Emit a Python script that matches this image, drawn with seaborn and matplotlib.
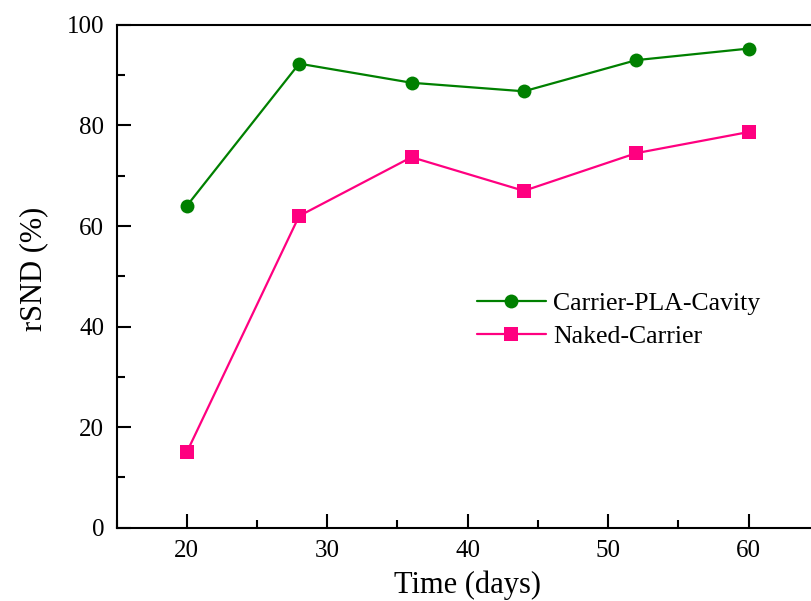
import pandas as pd
import matplotlib
matplotlib.use("Agg")
import matplotlib.pyplot as plt
from matplotlib.ticker import MultipleLocator
import seaborn as sns

days = [20, 28, 36, 44, 52, 60]
carrier_pla_cavity = [64.0, 92.3, 88.5, 86.8, 93.0, 95.3]
naked_carrier = [15.0, 62.0, 73.7, 67.0, 74.5, 78.7]
series_names = ["Carrier-PLA-Cavity", "Naked-Carrier"]

df = pd.concat([
    pd.DataFrame({"day": days, "rsnd": carrier_pla_cavity, "group": series_names[0]}),
    pd.DataFrame({"day": days, "rsnd": naked_carrier, "group": series_names[1]}),
])

sns.set_style("ticks")
plt.rcParams["font.family"] = ["Liberation Serif", "DejaVu Serif"]
plt.rcParams["text.color"] = "black"
plt.rcParams["axes.labelcolor"] = "black"
plt.rcParams["xtick.color"] = "black"
plt.rcParams["ytick.color"] = "black"
plt.rcParams["axes.edgecolor"] = "black"

fig = plt.figure(figsize=(8.11, 6.01), dpi=100)
# axes runs past the right edge, like the cropped original
ax = fig.add_axes([0.1437, 0.122, 0.866, 0.8365])

sns.lineplot(
    data=df, x="day", y="rsnd", hue="group", style="group",
    palette={series_names[0]: "#008000", series_names[1]: "#FF0080"},
    markers={series_names[0]: "o", series_names[1]: "s"},
    dashes=False, markersize=10, markeredgewidth=0, linewidth=1.6, ax=ax,
)

ax.set_xlim(15, 65)
ax.set_ylim(0, 100)
ax.xaxis.set_major_locator(MultipleLocator(10))
ax.xaxis.set_minor_locator(MultipleLocator(5))
ax.yaxis.set_major_locator(MultipleLocator(20))
ax.yaxis.set_minor_locator(MultipleLocator(10))
ax.tick_params(which="both", direction="in", width=1.5, top=False, right=False, labelsize=18)
ax.tick_params(which="major", length=10, pad=9)
ax.tick_params(which="minor", length=6)
for s in ax.spines.values():
    s.set_linewidth(1.5)
    s.set_visible(True)

ax.set_xlabel("Time (days)", fontsize=22, labelpad=6)
ax.set_ylabel("rSND (%)", fontsize=22)
ax.yaxis.set_label_coords(-0.097, 0.515)

leg = ax.legend(
    loc="upper left", bbox_to_anchor=(0.48, 0.515), frameon=False,
    fontsize=18.5, handlelength=2.7, handletextpad=0.27, labelspacing=0.4,
)

fig.savefig("out.png", dpi=100)
